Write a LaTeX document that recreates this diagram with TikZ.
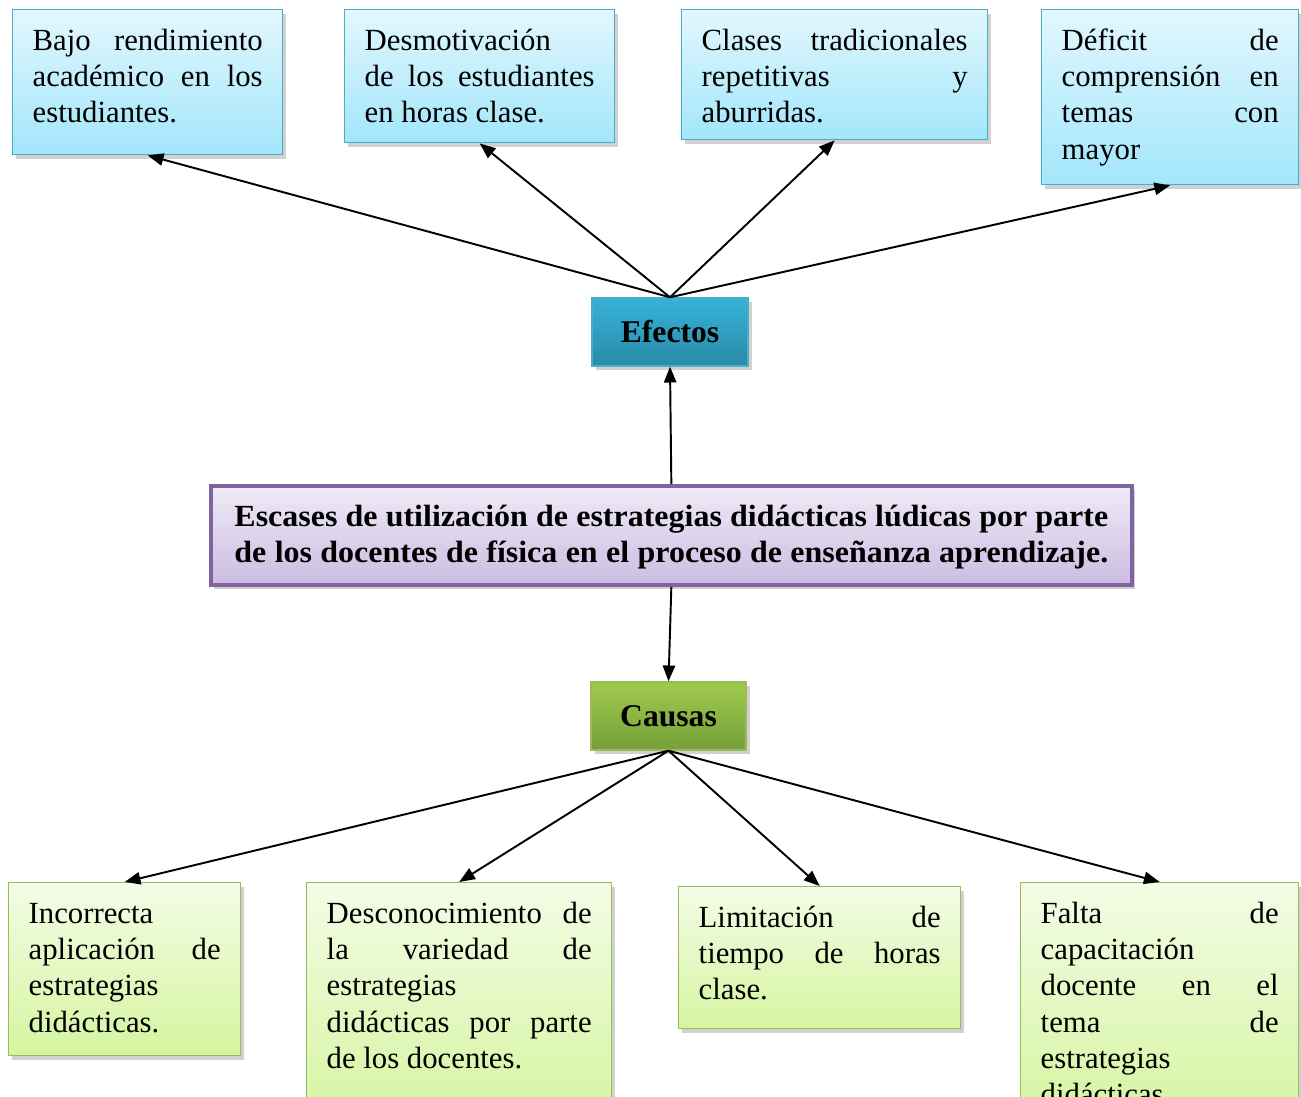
\documentclass[tikz,border=0pt]{standalone}
\usepackage{fontspec}
\setmainfont{Liberation Serif}
\newfontfamily\wideserif[FakeStretch=1.04]{Liberation Serif}
\usetikzlibrary{arrows.meta,shadows}

\definecolor{efline}{HTML}{4BACC6}
\definecolor{eftop}{HTML}{E2F7FD}
\definecolor{efbot}{HTML}{A2E6FB}
\definecolor{efdarktop}{HTML}{36B2D8}
\definecolor{efdarkbot}{HTML}{2A8AA8}
\definecolor{caline}{HTML}{9BBB59}
\definecolor{catop}{HTML}{F3FCE6}
\definecolor{cabot}{HTML}{D5F5A0}
\definecolor{cadarktop}{HTML}{9FCA4C}
\definecolor{cadarkbot}{HTML}{76A03A}
\definecolor{prline}{HTML}{8064A2}
\definecolor{prtop}{HTML}{EFEAF6}
\definecolor{prbot}{HTML}{CBBDE1}

\tikzset{
  box/.style={draw, line width=0.8pt, anchor=north west, inner xsep=0.4cm, inner ysep=0pt,
    drop shadow={shadow xshift=2pt, shadow yshift=-2.5pt, opacity=0.3, fill=black!60}},
  efectobox/.style={box, draw=efline, top color=eftop, bottom color=efbot},
  causabox/.style={box, draw=caline, top color=catop, bottom color=cabot},
  efectotitle/.style={efectobox, top color=efdarktop, bottom color=efdarkbot,
    anchor=center, minimum width=3.12cm, minimum height=1.36cm, font=\fontsize{18}{21}\selectfont\bfseries},
  causatitle/.style={causabox, top color=cadarktop, bottom color=cadarkbot,
    anchor=center, minimum width=3.1cm, minimum height=1.36cm, font=\fontsize{18}{21}\selectfont\bfseries},
  problem/.style={box, draw=prline, line width=2.2pt, top color=prtop, bottom color=prbot, inner xsep=0.47cm},
  link/.style={-{Triangle[length=9pt,width=7pt]}, line width=1.1pt}
}

% justified text, top aligned, first baseline 41px below the top edge
\newcommand{\boxtext}[3]{\parbox[c][#2][t]{#1}{\fontsize{17.5}{20.7}\selectfont
  \hyphenpenalty=10000 \tolerance=10000 \hbadness=10000 \vspace*{8.5pt}\strut #3}}

\begin{document}
\begin{tikzpicture}[x=0.02cm, y=-0.02cm]
\useasboundingbox (0,0) rectangle (1301,1097);
\clip (0,0) rectangle (1301,1097);

% efectos
\node[efectobox] (bajo) at (12,9) {\boxtext{4.6cm}{2.9cm}{Bajo rendimiento\linebreak académico en los\linebreak estudiantes.}};
\node[efectobox] (desmot) at (344,9) {\boxtext{4.6cm}{2.66cm}{Desmotivación\linebreak de los estudiantes\linebreak en horas clase.}};
\node[efectobox] (clases) at (681,9) {\boxtext{5.32cm}{2.6cm}{Clases tradicionales\linebreak repetitivas y\linebreak aburridas.}};
\node[efectobox] (deficit) at (1041,9) {\boxtext{4.34cm}{3.5cm}{Déficit de\linebreak comprensión en\linebreak temas con\linebreak mayor}};

\node[efectotitle] (efectos) at (670,332) {Efectos};

% problema central
\node[problem] (problema) at (209,484) {\parbox[c][1.98cm][t]{17.48cm}{\fontsize{17.5}{20.7}\wideserif\bfseries
  \hyphenpenalty=10000 \tolerance=10000 \hbadness=10000 \parfillskip=0pt \vspace*{8.5pt}\strut
  Escases de utilización de estrategias didácticas lúdicas por parte\linebreak
  de los docentes de física en el proceso de enseñanza aprendizaje.}};

\node[causatitle] (causas) at (668.5,716) {Causas};

% causas
\node[causabox] (incorr) at (8,882) {\boxtext{3.84cm}{3.46cm}{Incorrecta\linebreak aplicación de\linebreak estrategias\linebreak didácticas.}};
\node[causabox] (descon) at (306,882) {\boxtext{5.3cm}{4.76cm}{Desconocimiento de\linebreak la variedad de\linebreak estrategias\linebreak didácticas por parte\linebreak de los docentes.}};
\node[causabox] (limit) at (678,886) {\boxtext{4.84cm}{2.84cm}{Limitación de\linebreak tiempo de horas\linebreak clase.}};
\node[causabox] (falta) at (1020,882) {\boxtext{4.76cm}{4.76cm}{Falta de\linebreak capacitación\linebreak docente en el\linebreak tema de\linebreak estrategias\linebreak didácticas}};

% conectores
\draw[link] (problema.north) -- (efectos.south);
\foreach \e in {bajo, desmot, clases, deficit}
  \draw[link] (efectos.north) -- (\e.south);
\draw[link] (problema.south) -- (causas.north);
\foreach \c in {incorr, descon, limit, falta}
  \draw[link] (causas.south) -- (\c.north);
\end{tikzpicture}
\end{document}
